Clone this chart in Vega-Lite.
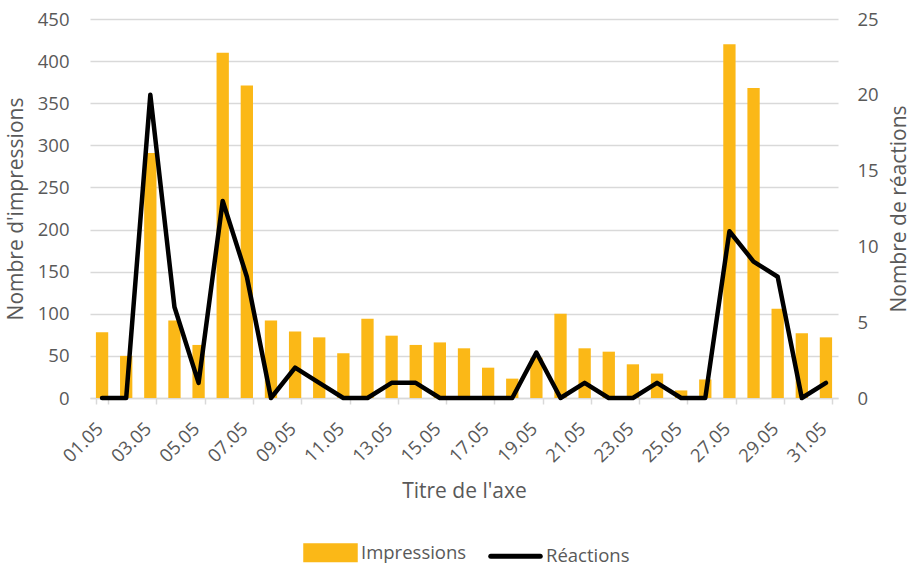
{
  "$schema": "https://vega.github.io/schema/vega-lite/v6.json",
  "width": 748,
  "height": 379,
  "autosize": {"type": "none"},
  "padding": {"left": 90, "top": 19, "right": 73, "bottom": 168},
  "background": "white",
  "config": {
    "font": "Open Sans",
    "view": {"stroke": null},
    "axis": {
      "labelColor": "#595959",
      "labelFontSize": 18.5,
      "titleColor": "#595959",
      "titleFontSize": 21,
      "titleFontWeight": "normal",
      "gridColor": "#d9d9d9",
      "gridWidth": 1.5,
      "domainColor": "#d9d9d9",
      "tickColor": "#d9d9d9"
    },
    "legend": {
      "labelColor": "#595959",
      "labelFontSize": 18.5
    }
  },
  "data": {
    "values": [
      {"date": "01.05", "impressions": 78, "reactions": 0},
      {"date": "02.05", "impressions": 50, "reactions": 0},
      {"date": "03.05", "impressions": 291, "reactions": 20},
      {"date": "04.05", "impressions": 92, "reactions": 6},
      {"date": "05.05", "impressions": 63, "reactions": 1},
      {"date": "06.05", "impressions": 410, "reactions": 13},
      {"date": "07.05", "impressions": 371, "reactions": 8},
      {"date": "08.05", "impressions": 92, "reactions": 0},
      {"date": "09.05", "impressions": 79, "reactions": 2},
      {"date": "10.05", "impressions": 72, "reactions": 1},
      {"date": "11.05", "impressions": 53, "reactions": 0},
      {"date": "12.05", "impressions": 94, "reactions": 0},
      {"date": "13.05", "impressions": 74, "reactions": 1},
      {"date": "14.05", "impressions": 63, "reactions": 1},
      {"date": "15.05", "impressions": 66, "reactions": 0},
      {"date": "16.05", "impressions": 59, "reactions": 0},
      {"date": "17.05", "impressions": 36, "reactions": 0},
      {"date": "18.05", "impressions": 23, "reactions": 0},
      {"date": "19.05", "impressions": 48, "reactions": 3},
      {"date": "20.05", "impressions": 100, "reactions": 0},
      {"date": "21.05", "impressions": 59, "reactions": 1},
      {"date": "22.05", "impressions": 55, "reactions": 0},
      {"date": "23.05", "impressions": 40, "reactions": 0},
      {"date": "24.05", "impressions": 29, "reactions": 1},
      {"date": "25.05", "impressions": 9, "reactions": 0},
      {"date": "26.05", "impressions": 22, "reactions": 0},
      {"date": "27.05", "impressions": 420, "reactions": 11},
      {"date": "28.05", "impressions": 368, "reactions": 9},
      {"date": "29.05", "impressions": 106, "reactions": 8},
      {"date": "30.05", "impressions": 77, "reactions": 0},
      {"date": "31.05", "impressions": 72, "reactions": 1}
    ]
  },
  "encoding": {
    "x": {
      "field": "date",
      "type": "nominal",
      "sort": null,
      "scale": {"paddingInner": 0.49, "paddingOuter": 0.245},
      "axis": {
        "title": "Titre de l'axe",
        "values": ["01.05","03.05","05.05","07.05","09.05","11.05","13.05","15.05","17.05","19.05","21.05","23.05","25.05","27.05","29.05","31.05"],
        "tickBand": "extent",
        "labelAngle": -45,
        "labelPadding": 15,
        "labelOffset": -9,
        "tickSize": 6,
        "domainWidth": 1.5,
        "tickWidth": 1.5,
        "grid": false,
        "titleY": 99,
        "titleBaseline": "alphabetic"
      }
    }
  },
  "layer": [
    {
      "mark": {"type": "bar", "color": "#FBB817"},
      "encoding": {
        "y": {
          "field": "impressions",
          "type": "quantitative",
          "scale": {"domain": [0, 450], "nice": false},
          "axis": {
            "title": "Nombre d'impressions",
            "values": [0, 50, 100, 150, 200, 250, 300, 350, 400, 450],
            "domain": false,
            "ticks": false,
            "labelPadding": 21,
            "titleX": -68,
            "titleBaseline": "alphabetic"
          }
        },
        "color": {
          "datum": "Impressions",
          "scale": {"domain": ["Impressions", "Réactions"], "range": ["#FBB817", "#000000"]},
          "legend": {
            "title": null,
            "orient": "none",
            "direction": "horizontal",
            "legendX": 213,
            "legendY": 506,
            "symbolSize": 2450,
            "labelOffset": 3,
            "columnPadding": 13,
            "encode": {
              "symbols": {
                "update": {
                  "shape": {"signal": "datum.value === 'Impressions' ? 'M-1,-0.28H1V0.28H-1Z' : 'stroke'"},
                  "fill": {"signal": "datum.value === 'Impressions' ? '#FBB817' : 'transparent'"},
                  "stroke": {"signal": "datum.value === 'Impressions' ? 'transparent' : '#000000'"},
                  "strokeWidth": {"value": 5},
                  "strokeCap": {"value": "round"},
                  "opacity": {"value": 1}
                }
              }
            }
          }
        }
      }
    },
    {
      "mark": {"type": "line", "color": "#000000", "strokeWidth": 4.5, "strokeJoin": "round", "strokeCap": "round"},
      "encoding": {
        "y": {
          "field": "reactions",
          "type": "quantitative",
          "scale": {"domain": [0, 25], "nice": false},
          "axis": {
            "title": "Nombre de réactions",
            "orient": "right",
            "values": [0, 5, 10, 15, 20, 25],
            "domain": false,
            "ticks": false,
            "grid": false,
            "labelPadding": 19,
            "titleAngle": 270,
            "titleX": 67,
            "titleBaseline": "alphabetic"
          }
        },
        "color": {"datum": "Réactions"}
      }
    }
  ],
  "resolve": {"scale": {"y": "independent"}}
}
